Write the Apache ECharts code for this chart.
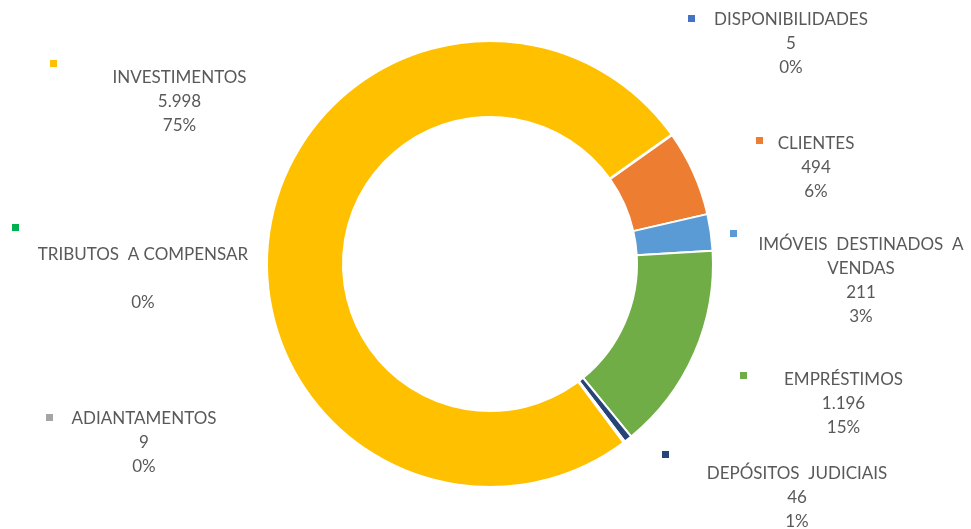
<!DOCTYPE html>
<html>
<head>
<meta charset="utf-8">
<script src="https://cdn.jsdelivr.net/npm/echarts@6/dist/echarts.min.js"></script>
<style>
html,body{margin:0;padding:0;background:#fff;}
#chart{width:971px;height:529px;}
</style>
</head>
<body>
<div id="chart"></div>
<script>
// ---- data ----
var categories = ['DISPONIBILIDADES', 'CLIENTES', 'IMÓVEIS  DESTINADOS  A\nVENDAS', 'EMPRÉSTIMOS', 'DEPÓSITOS  JUDICIAIS', 'ADIANTAMENTOS', 'TRIBUTOS  A COMPENSAR', 'INVESTIMENTOS'];
var values = [5, 494, 211, 1196, 46, 9, 0, 5998];
var colors = ['#4472C4', '#ED7D31', '#5B9BD5', '#70AD47', '#264478', '#A5A5A5', '#00B050', '#FFC000'];

// ---- layout (label centres: x, first-line centre y) ----
var labelPos = [
  [791, 20], [816, 143.5], [861, 245], [843.5, 380], [797, 474], [144, 418.5], [143, 255], [179.5, 78]
];
// legend-key squares (top-left)
var keyPos = [
  [688, 15], [756, 137], [730, 230], [740, 372], [662, 451], [46, 414], [12, 224], [50, 60]
];

var total = values.reduce(function (a, b) { return a + b; }, 0);
function fmtNum(v) {
  if (!v) return '';
  return String(v).replace(/\B(?=(\d{3})+(?!\d))/g, '.');
}

var chart = echarts.init(document.getElementById('chart'), null, { renderer: 'canvas' });

var legends = categories.map(function (c, i) {
  return {
    data: [c],
    left: keyPos[i][0],
    top: keyPos[i][1],
    padding: 0,
    itemWidth: 7,
    itemHeight: 7,
    icon: 'rect',
    selectedMode: false,
    itemStyle: { borderWidth: 0 },
    formatter: function () { return ''; },
    textStyle: { fontSize: 1, padding: 0 }
  };
});

var option = {
  backgroundColor: '#ffffff',
  animation: false,
  legend: legends,
  series: [{
    type: 'pie',
    center: [490, 264],
    radius: [147, 223],
    startAngle: 35.5,
    clockwise: true,
    avoidLabelOverlap: false,
    stillShowZeroSum: true,
    itemStyle: { borderColor: '#ffffff', borderWidth: 2 },
    emphasis: { disabled: true },
    labelLine: { show: false },
    label: {
      show: true,
      position: 'outside',
      fontFamily: 'Lato',
      fontSize: 17,
      lineHeight: 24,
      color: '#595959',
      align: 'center',
      formatter: function (p) {
        var v = values[p.dataIndex];
        var pct = Math.round(v / total * 100) + '%';
        return categories[p.dataIndex] + '\n' + fmtNum(v) + '\n' + pct;
      }
    },
    labelLayout: function (params) {
      var pos = labelPos[params.dataIndex];
      return { x: pos[0], y: pos[1] - 12, align: 'center', verticalAlign: 'top' };
    },
    data: categories.map(function (c, i) {
      return { name: c, value: values[i], itemStyle: { color: colors[i] } };
    })
  }]
};
chart.setOption(option);
</script>
</body>
</html>
